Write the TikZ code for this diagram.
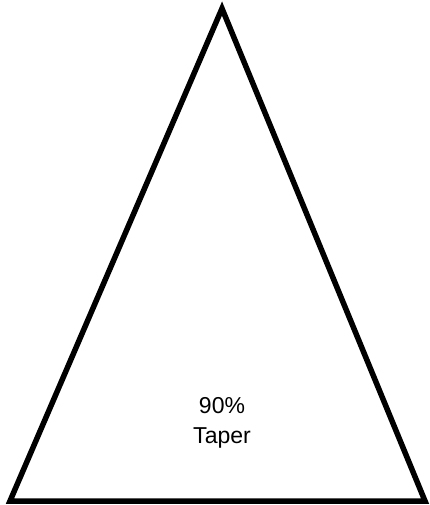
\documentclass[tikz,border=0pt]{standalone}
\usepackage{fontspec}
\setmainfont{Liberation Sans}
\usetikzlibrary{positioning}
\tikzset{
    outline/.style={draw=black, line width=5.5pt, line join=miter},
    tagtext/.style={align=center, font=\fontsize{23}{29.5}\selectfont, inner sep=0pt}
}

\begin{document}
\begin{tikzpicture}[x=1pt, y=-1pt]
    \useasboundingbox (0,0) rectangle (430,505);
    \coordinate (apex) at (222,8.5);
    \coordinate (left) at (10,501);
    \coordinate (right) at (425,501);

    \draw [outline] (apex) -- (left) -- (right) -- cycle;

    \node (taper) [tagtext] at (222,423) {90\%\\Taper};
\end{tikzpicture}
\end{document}
